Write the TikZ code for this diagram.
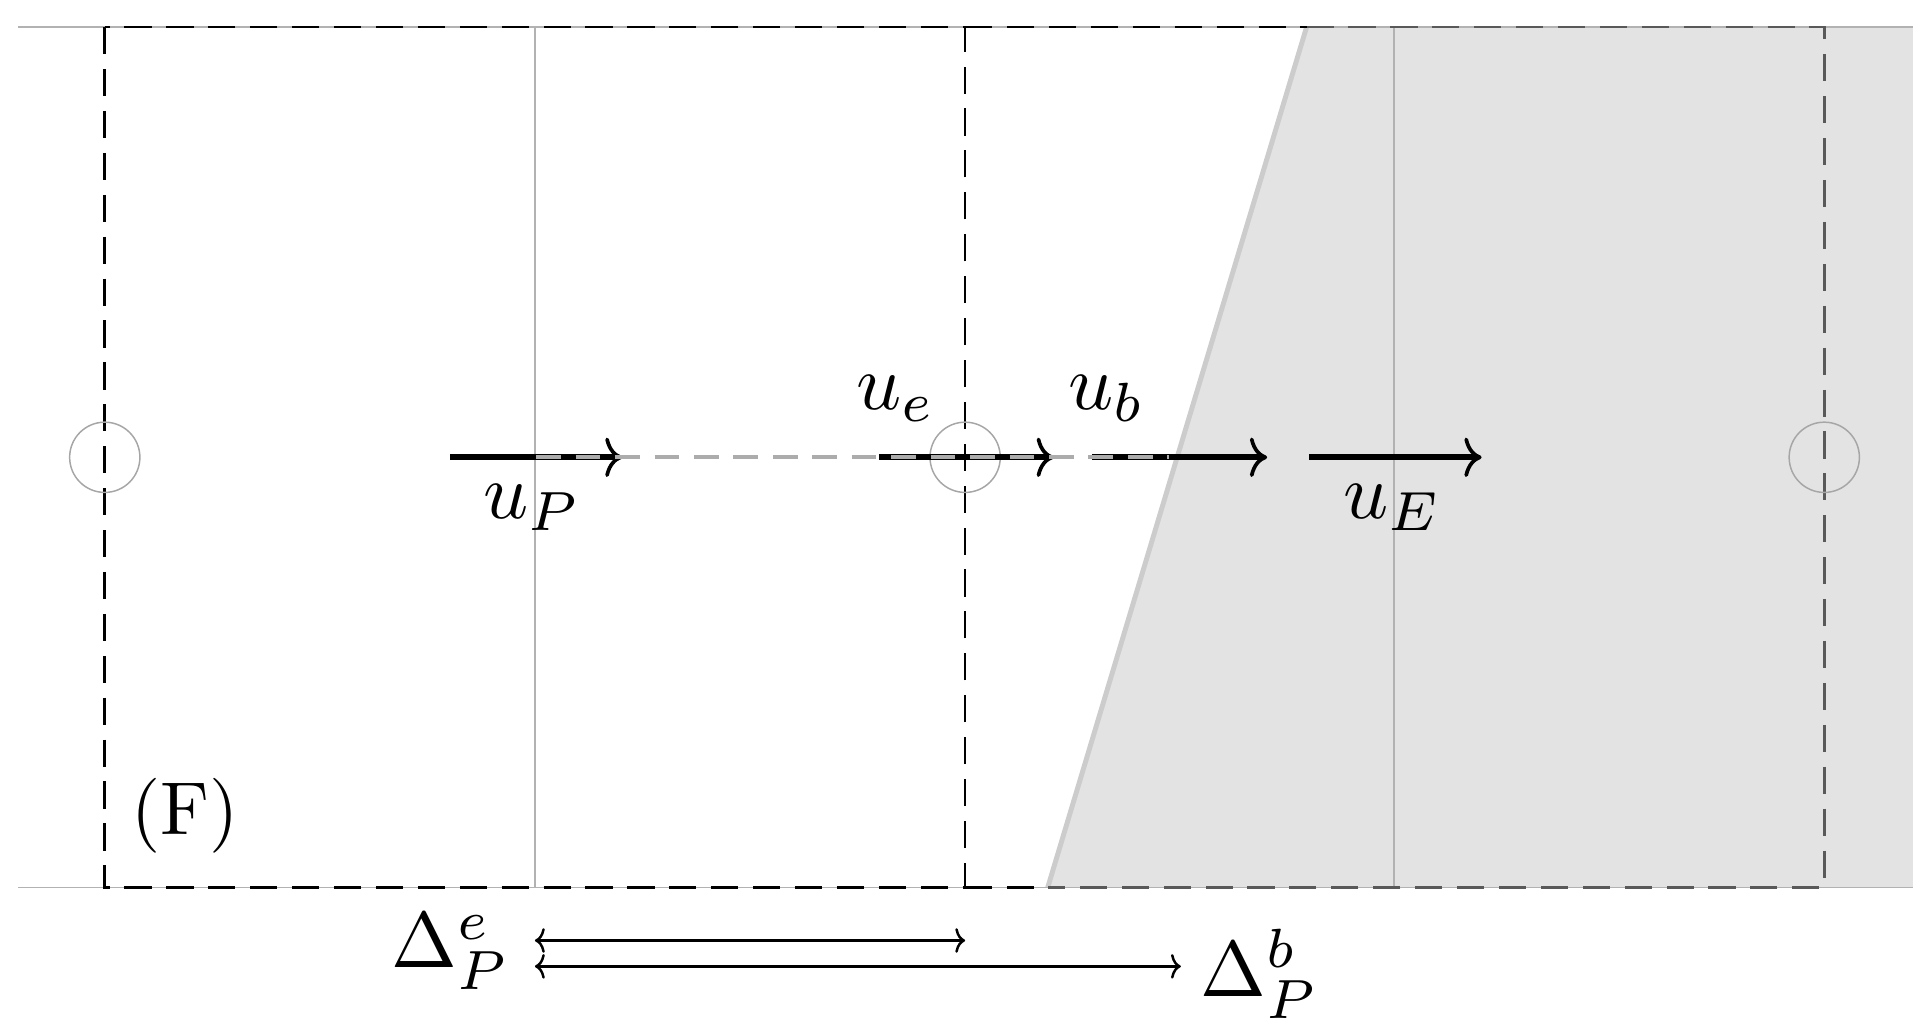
\documentclass[tikz,border=0pt]{standalone}
\usetikzlibrary{arrows.meta}
\begin{document}
\begin{tikzpicture}[x=1pt,y=-1pt,
  frame/.style={dashed,dash pattern=on 22pt off 12pt,line width=2.2pt},
  vel/.style={line width=5pt,-{To[length=14pt,width=32pt,line width=3pt]}},
  dim/.style={line width=2pt,{To[length=8pt,width=20pt]}-{To[length=8pt,width=20pt]}},
  lbl/.style={scale=6.4,inner sep=0pt}]
\useasboundingbox (0,0) rectangle (1552,837);
\fill[gray!22] (1060,22) -- (1552,22) -- (1552,720) -- (850,720) -- cycle;
\draw[gray!40,line width=4pt] (1060,22) -- (850,720);
\draw[gray!60,line width=1.2pt] (15,22) -- (1552,22) (15,720) -- (1552,720);
\draw[gray!60,line width=1pt] (434,22) -- (434,720) (1131,22) -- (1131,720);
\draw[frame] (85,22) rectangle (783,720);
\draw[frame] (783,22) -- (1060,22) (783,720) -- (850,720);
\draw[frame,black!65] (1060,22) -- (1480,22) -- (1480,720) -- (850,720);
\foreach \x/\n in {85/c1,783/c2,1480/c3} \node[circle,draw=gray!70,line width=1.2pt,minimum size=57pt,inner sep=0pt] (\n) at (\x,371) {};
\coordinate (p0) at (365,371); \coordinate (p1) at (505,371);
\coordinate (e0) at (713,371); \coordinate (e1) at (855,371);
\coordinate (b0) at (886,371); \coordinate (b1) at (1028,371);
\coordinate (E0) at (1062,371); \coordinate (E1) at (1202,371);
\draw[vel] (p0) -- (p1);
\draw[vel] (e0) -- (e1);
\draw[vel] (b0) -- (b1);
\draw[vel] (E0) -- (E1);
\coordinate (g0) at (435,371); \coordinate (g1) at (948,371);
\draw[gray!65,line width=3pt,dash pattern=on 20pt off 12pt] (g0) -- (g1);
\node[lbl] (uP) at (432,412) {$u_P$};
\node[lbl] (ue) at (727,323) {$u_e$};
\node[lbl] (ub) at (898,323) {$u_b$};
\node[lbl] (uE) at (1130,412) {$u_E$};
\node[lbl,scale=0.95] (F) at (150,662) {(F)};
\coordinate (d0) at (434,763); \coordinate (d1) at (783,763);
\coordinate (d2) at (434,784); \coordinate (d3) at (958,784);
\draw[dim] (d0) -- (d1);
\draw[dim] (d2) -- (d3);
\node[lbl] (De) at (366,772) {$\Delta_P^e$};
\node[lbl] (Db) at (1022,790) {$\Delta_P^b$};
\end{tikzpicture}
\end{document}
